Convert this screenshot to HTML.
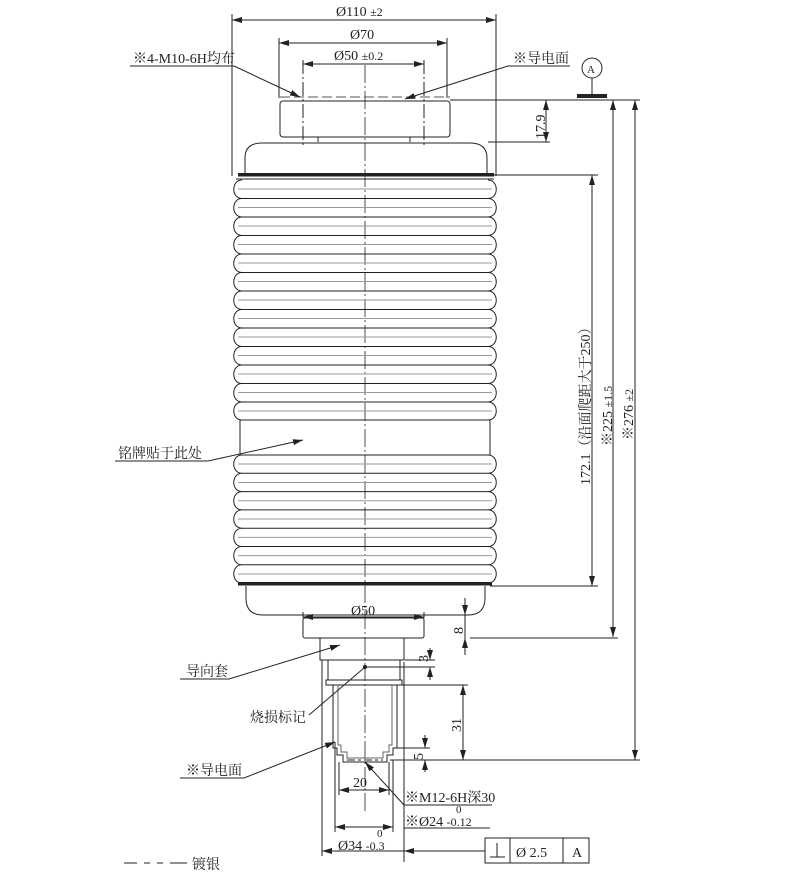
<!DOCTYPE html>
<html><head><meta charset="utf-8"><style>
html,body{margin:0;padding:0;background:#fff;}
svg{display:block;}
text{font-family:"Liberation Serif","Noto Serif CJK SC","Noto Sans CJK SC",serif;fill:#222;}
</style></head><body>
<svg width="791" height="875" viewBox="0 0 791 875" xmlns="http://www.w3.org/2000/svg">
<defs>
<marker id="ar" viewBox="0 0 10 6" refX="10" refY="3" markerWidth="10" markerHeight="6" orient="auto-start-reverse" markerUnits="userSpaceOnUse"><path d="M0,0 L10,3 L0,6 z" fill="#222"/></marker>
</defs>
<g stroke="#222" stroke-width="1" fill="none">
<line x1="365" y1="65" x2="365" y2="812" stroke-dasharray="18,3,2,3" stroke-width="0.8"/>

<line x1="232" y1="14" x2="232" y2="176"/>
<line x1="496" y1="14" x2="496" y2="176"/>
<line x1="232" y1="20" x2="496" y2="20" marker-start="url(#ar)" marker-end="url(#ar)"/>
<line x1="279" y1="38" x2="279" y2="98"/>
<line x1="447" y1="38" x2="447" y2="98"/>
<line x1="279" y1="43" x2="447" y2="43" marker-start="url(#ar)" marker-end="url(#ar)"/>
<line x1="303" y1="60" x2="303" y2="145" stroke-dasharray="14,3,2,3"/>
<line x1="424" y1="60" x2="424" y2="145" stroke-dasharray="14,3,2,3"/>
<line x1="303" y1="64" x2="424" y2="64" marker-start="url(#ar)" marker-end="url(#ar)"/>

<line x1="280" y1="97" x2="450" y2="97" stroke-dasharray="10,4" stroke="#555"/>
<line x1="450" y1="100" x2="640" y2="100"/>
<rect x="280" y="101" width="170" height="36" rx="3"/>
<line x1="318" y1="137" x2="318" y2="142"/>
<line x1="410" y1="137" x2="410" y2="142"/>
<circle cx="592" cy="68" r="10"/>
<line x1="592" y1="78" x2="592" y2="95"/>
<rect x="577" y="94" width="30" height="4" fill="#222" stroke="none"/>
<line x1="488" y1="142" x2="550" y2="142"/>
<line x1="546" y1="100" x2="546" y2="142" marker-start="url(#ar)" marker-end="url(#ar)"/>

<path d="M245,174 L245,158 Q245,143 262,143 L470,143 Q487,143 487,158 L487,174"/>
<rect x="238" y="173" width="256" height="3.5" fill="#222" stroke="none"/>
<line x1="236" y1="179" x2="494" y2="179"/>

<line x1="493" y1="175" x2="598" y2="175"/>
<line x1="490" y1="586" x2="598" y2="586"/>
<line x1="592" y1="175" x2="592" y2="586" marker-start="url(#ar)" marker-end="url(#ar)"/>
<line x1="613" y1="100" x2="613" y2="637" marker-start="url(#ar)" marker-end="url(#ar)"/>
<line x1="470" y1="638" x2="618" y2="638"/>
<line x1="635" y1="100" x2="635" y2="760" marker-start="url(#ar)" marker-end="url(#ar)"/>
<line x1="390" y1="760" x2="640" y2="760"/>

<path id="bl" d="
M242,180 C231,180 231,198.5 242,198.5 C231,198.5 231,217 242,217 C231,217 231,235.5 242,235.5 C231,235.5 231,254 242,254 C231,254 231,272.5 242,272.5 C231,272.5 231,291 242,291 C231,291 231,309.5 242,309.5 C231,309.5 231,328 242,328 C231,328 231,346.5 242,346.5 C231,346.5 231,365 242,365 C231,365 231,383.5 242,383.5 C231,383.5 231,402 242,402 C231,402 231,420 242,420
M242,455 C231,455 231,473.3 242,473.3 C231,473.3 231,491.6 242,491.6 C231,491.6 231,509.9 242,509.9 C231,509.9 231,528.2 242,528.2 C231,528.2 231,546.5 242,546.5 C231,546.5 231,564.8 242,564.8 C231,564.8 231,583 242,583"/>
<use href="#bl" transform="translate(730,0) scale(-1,1)"/>
<line x1="240" y1="420" x2="240" y2="455"/>
<line x1="490" y1="420" x2="490" y2="455"/>
<line x1="240" y1="420" x2="490" y2="420"/>
<line x1="240" y1="455" x2="490" y2="455"/>
<g>
<line x1="242" y1="198.5" x2="488" y2="198.5"/><line x1="242" y1="217" x2="488" y2="217"/><line x1="242" y1="235.5" x2="488" y2="235.5"/><line x1="242" y1="254" x2="488" y2="254"/><line x1="242" y1="272.5" x2="488" y2="272.5"/><line x1="242" y1="291" x2="488" y2="291"/><line x1="242" y1="309.5" x2="488" y2="309.5"/><line x1="242" y1="328" x2="488" y2="328"/><line x1="242" y1="346.5" x2="488" y2="346.5"/><line x1="242" y1="365" x2="488" y2="365"/><line x1="242" y1="383.5" x2="488" y2="383.5"/><line x1="242" y1="402" x2="488" y2="402"/>
<line x1="242" y1="473.3" x2="488" y2="473.3"/><line x1="242" y1="491.6" x2="488" y2="491.6"/><line x1="242" y1="509.9" x2="488" y2="509.9"/><line x1="242" y1="528.2" x2="488" y2="528.2"/><line x1="242" y1="546.5" x2="488" y2="546.5"/><line x1="242" y1="564.8" x2="488" y2="564.8"/>
</g>
<g stroke="#999">
<line x1="238" y1="189" x2="492" y2="189"/><line x1="238" y1="207.5" x2="492" y2="207.5"/><line x1="238" y1="226" x2="492" y2="226"/><line x1="238" y1="244.5" x2="492" y2="244.5"/><line x1="238" y1="263" x2="492" y2="263"/><line x1="238" y1="281.5" x2="492" y2="281.5"/><line x1="238" y1="300" x2="492" y2="300"/><line x1="238" y1="318.5" x2="492" y2="318.5"/><line x1="238" y1="337" x2="492" y2="337"/><line x1="238" y1="355.5" x2="492" y2="355.5"/><line x1="238" y1="374" x2="492" y2="374"/><line x1="238" y1="392.5" x2="492" y2="392.5"/><line x1="238" y1="411" x2="492" y2="411"/>
<line x1="238" y1="464" x2="492" y2="464"/><line x1="238" y1="482.5" x2="492" y2="482.5"/><line x1="238" y1="500.8" x2="492" y2="500.8"/><line x1="238" y1="519" x2="492" y2="519"/><line x1="238" y1="537.4" x2="492" y2="537.4"/><line x1="238" y1="555.6" x2="492" y2="555.6"/><line x1="238" y1="574" x2="492" y2="574"/>
</g>
<rect x="238" y="582" width="254" height="3.5" fill="#222" stroke="none"/>

<path d="M246,586 L246,598 Q246,615 263,615 L468,615 Q485,615 485,598 L485,586"/>
<line x1="303" y1="612" x2="303" y2="618"/>
<line x1="424" y1="612" x2="424" y2="618"/>
<line x1="303" y1="617" x2="424" y2="617" marker-start="url(#ar)" marker-end="url(#ar)"/>
<rect x="303" y="618" width="121" height="20" rx="2"/>
<line x1="465" y1="598" x2="465" y2="615" marker-end="url(#ar)"/>
<line x1="465" y1="655" x2="465" y2="638" marker-end="url(#ar)"/>
<line x1="465" y1="615" x2="465" y2="638"/>
<rect x="320" y="638" width="84" height="22"/>
<rect x="328" y="660" width="72" height="20"/>
<rect x="326" y="680" width="76" height="5"/>
<line x1="405" y1="660" x2="435" y2="660"/>
<line x1="365" y1="667" x2="435" y2="667"/>
<circle cx="365" cy="667" r="1.6" fill="#222"/>
<line x1="430" y1="648" x2="430" y2="660" marker-end="url(#ar)"/>
<line x1="430" y1="680" x2="430" y2="667" marker-end="url(#ar)"/>
<line x1="402" y1="685" x2="468" y2="685"/>
<line x1="463" y1="685" x2="463" y2="760" marker-start="url(#ar)" marker-end="url(#ar)"/>
<path d="M333,685 L333,748 L337,748 L337,755 L343,755 L343,762 L387,762 L387,755 L393,755 L393,748 L397,748 L397,685"/>
<path d="M338,685 L338,745 L341,745 L341,752 L347,752 L347,758 L383,758 L383,752 L389,752 L389,745 L392,745 L392,685" stroke="#666"/>
<line x1="347" y1="760" x2="383" y2="760" stroke-dasharray="8,3,3,3"/>
<line x1="397" y1="748" x2="430" y2="748"/>
<line x1="425" y1="735" x2="425" y2="748" marker-end="url(#ar)"/>
<line x1="425" y1="772" x2="425" y2="760" marker-end="url(#ar)"/>
<line x1="339" y1="762" x2="339" y2="795"/>
<line x1="389" y1="762" x2="389" y2="795"/>
<line x1="339" y1="790" x2="389" y2="790" marker-start="url(#ar)" marker-end="url(#ar)"/>
<line x1="335" y1="742" x2="335" y2="832"/>
<line x1="393" y1="760" x2="393" y2="832"/>
<line x1="335" y1="827" x2="393" y2="827" marker-start="url(#ar)" marker-end="url(#ar)"/>
<line x1="322" y1="660" x2="322" y2="856"/>
<line x1="404" y1="662" x2="404" y2="862"/>
<line x1="322" y1="851" x2="404" y2="851" marker-start="url(#ar)"/>
<line x1="420" y1="851" x2="404" y2="851" marker-end="url(#ar)"/>
<line x1="404" y1="851" x2="485" y2="851"/>
<rect x="485" y="838" width="104" height="25"/>
<line x1="510" y1="838" x2="510" y2="863"/>
<line x1="563" y1="838" x2="563" y2="863"/>
<line x1="497" y1="843" x2="497" y2="857"/>
<line x1="490" y1="857" x2="505" y2="857"/>

<line x1="130" y1="66" x2="234" y2="66"/>
<line x1="234" y1="66" x2="300" y2="97" marker-end="url(#ar)"/>
<line x1="508" y1="66" x2="570" y2="66"/>
<line x1="508" y1="66" x2="405" y2="99" marker-end="url(#ar)"/>
<line x1="115" y1="461" x2="208" y2="461"/>
<line x1="208" y1="461" x2="303" y2="440" marker-end="url(#ar)"/>
<line x1="180" y1="679" x2="229" y2="679"/>
<line x1="229" y1="679" x2="340" y2="645" marker-end="url(#ar)"/>
<line x1="309" y1="715" x2="364" y2="668"/>
<line x1="180" y1="778" x2="244" y2="778"/>
<line x1="244" y1="778" x2="335" y2="742" marker-end="url(#ar)"/>
<line x1="404" y1="805" x2="492" y2="805"/>
<line x1="404" y1="805" x2="365" y2="762" marker-end="url(#ar)"/>
<line x1="404" y1="828" x2="490" y2="828"/>
<line x1="124" y1="863" x2="137" y2="863"/>
<line x1="144" y1="863" x2="150" y2="863"/>
<line x1="157" y1="863" x2="163" y2="863"/>
<line x1="170" y1="863" x2="187" y2="863"/>
</g>

<g font-size="14">
<text x="336" y="16">Ø110 <tspan font-size="12">±2</tspan></text>
<text x="350" y="39">Ø70</text>
<text x="334" y="60">Ø50 <tspan font-size="12">±0.2</tspan></text>
<text x="587" y="73" font-size="11">A</text>
<text x="133" y="63">※4-M10-6H均布</text>
<text x="513" y="63">※导电面</text>
<text transform="translate(545,139) rotate(-90)">17.9</text>
<text transform="translate(590,485) rotate(-90)">172.1（沿面爬距大于250）</text>
<text transform="translate(612,446) rotate(-90)">※225 <tspan font-size="12">±1.5</tspan></text>
<text transform="translate(633,440) rotate(-90)">※276 <tspan font-size="12">±2</tspan></text>
<text x="118" y="458">铭牌贴于此处</text>
<text x="351" y="615">Ø50</text>
<text transform="translate(463,634) rotate(-90)">8</text>
<text x="186" y="676">导向套</text>
<text transform="translate(428,662) rotate(-90)">3</text>
<text x="250" y="722">烧损标记</text>
<text transform="translate(461,732) rotate(-90)">31</text>
<text transform="translate(423,760) rotate(-90)">5</text>
<text x="353" y="787">20</text>
<text x="186" y="775">※导电面</text>
<text x="405" y="802">※M12-6H深30</text>
<text x="456" y="813" font-size="11">0</text>
<text x="405" y="826">※Ø24 <tspan font-size="12">-0.12</tspan></text>
<text x="377" y="837" font-size="11">0</text>
<text x="338" y="850">Ø34 <tspan font-size="12">-0.3</tspan></text>
<text x="516" y="857">Ø  2.5</text>
<text x="572" y="857">A</text>
<text x="192" y="869">镀银</text>
</g>
</svg>
</body></html>
